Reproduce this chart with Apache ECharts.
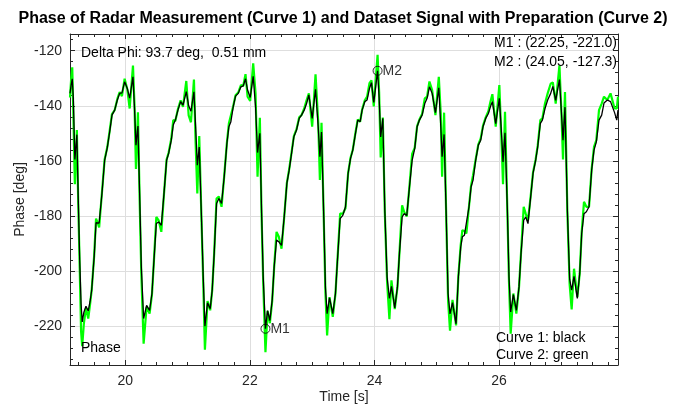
<!DOCTYPE html>
<html>
<head>
<meta charset="utf-8">
<script src="https://cdn.jsdelivr.net/npm/echarts@6/dist/echarts.min.js"></script>
<style>html,body{margin:0;padding:0;background:#fff}#c{width:686px;height:412px}</style>
</head>
<body>
<div id="c"></div>
<script>
// ---- data ----
const timeS = [
19.112,19.130,19.148,19.165,19.190,19.222,19.245,19.268,19.290,19.308,19.335,19.368,19.405,19.435,19.460,19.500,19.530,19.555,19.580,19.625,
19.668,19.711,19.749,19.786,19.829,19.872,19.909,19.946,19.989,20.032,20.070,20.123,20.148,20.171,20.203,20.230,20.257,20.294,20.342,20.390,
20.428,20.460,20.498,20.535,20.578,20.621,20.663,20.696,20.738,20.770,20.803,20.845,20.888,20.926,20.979,21.017,21.054,21.102,21.129,21.156,
21.187,21.224,21.251,21.278,21.320,21.363,21.395,21.427,21.465,21.502,21.545,21.588,21.631,21.663,21.695,21.732,21.770,21.813,21.856,21.893,
21.930,21.963,22.005,22.053,22.091,22.123,22.160,22.187,22.214,22.250,22.284,22.321,22.358,22.390,22.428,22.465,22.508,22.551,22.594,22.631,
22.669,22.706,22.749,22.792,22.829,22.872,22.910,22.947,23.000,23.054,23.097,23.124,23.150,23.187,23.213,23.240,23.278,23.331,23.374,23.406,
23.449,23.492,23.535,23.577,23.615,23.652,23.695,23.732,23.770,23.802,23.845,23.882,23.920,23.952,23.989,24.050,24.075,24.100,24.134,24.166,
24.203,24.240,24.273,24.326,24.369,24.401,24.444,24.476,24.519,24.562,24.605,24.647,24.685,24.722,24.765,24.808,24.845,24.883,24.926,24.979,
25.033,25.065,25.086,25.118,25.150,25.182,25.213,25.253,25.310,25.347,25.385,25.411,25.444,25.476,25.518,25.551,25.583,25.625,25.668,25.706,
25.743,25.786,25.829,25.861,25.893,25.947,26.005,26.043,26.064,26.096,26.134,26.160,26.187,26.230,26.278,26.321,26.353,26.396,26.428,26.465,
26.508,26.546,26.588,26.621,26.663,26.696,26.738,26.781,26.829,26.864,26.910,26.970,27.000,27.027,27.059,27.097,27.134,27.166,27.204,27.257,
27.295,27.327,27.364,27.402,27.445,27.487,27.525,27.562,27.605,27.648,27.685,27.739,27.790,27.817,27.855,27.890,27.910
];
// Curve 1 (black): radar measurement phase
const curve1 = [
-135.5,-132.5,-130.2,-137.0,-159.5,-150.5,-174.0,-196.0,-212.0,-218.5,-215.0,-212.8,-214.5,-211.0,-207.0,-194.9,-182.5,-182.0,-182.6,-171.9,
-159.8,-155.2,-149.5,-143.4,-141.6,-137.9,-135.5,-135.3,-131.3,-133.7,-137.2,-129.5,-141.0,-154.3,-147.4,-171.9,-198.5,-217.3,-212.5,-214.3,
-208.2,-196.1,-182.8,-182.2,-183.4,-171.9,-159.8,-157.3,-152.5,-147.0,-145.2,-141.6,-138.5,-139.8,-134.9,-140.0,-142.0,-134.9,-147.6,-161.6,
-155.0,-181.6,-202.2,-220.1,-211.6,-213.7,-207.0,-193.7,-175.5,-173.7,-175.5,-165.8,-153.7,-147.6,-145.8,-140.4,-136.5,-135.5,-133.1,-132.8,
-130.2,-134.3,-137.0,-129.3,-140.4,-157.0,-150.0,-177.9,-202.2,-221.0,-214.4,-218.0,-210.6,-198.5,-188.8,-189.4,-190.7,-180.4,-168.2,-163.4,
-157.3,-151.3,-148.8,-144.6,-143.4,-141.6,-139.2,-136.1,-144.6,-134.0,-147.6,-158.5,-149.5,-181.0,-206.0,-215.5,-209.8,-215.5,-208.2,-196.1,
-181.0,-179.8,-176.7,-164.6,-159.2,-156.1,-150.1,-145.2,-145.8,-141.6,-138.5,-137.9,-133.7,-131.6,-138.8,-127.3,-137.0,-151.3,-144.6,-177.9,
-202.2,-210.0,-205.6,-213.4,-205.8,-193.7,-180.4,-179.2,-179.8,-169.5,-159.8,-155.5,-147.6,-145.2,-143.4,-139.2,-137.3,-133.1,-135.5,-142.5,
-133.5,-147.6,-158.5,-150.4,-177.9,-208.2,-215.6,-211.5,-219.2,-202.2,-191.3,-187.6,-187.0,-186.4,-176.7,-169.5,-167.0,-159.8,-154.3,-152.5,
-147.6,-144.6,-142.8,-140.4,-138.5,-146.5,-137.3,-151.3,-160.4,-149.8,-177.9,-202.2,-214.9,-208.6,-214.3,-205.8,-193.7,-181.6,-180.4,-182.8,
-173.1,-164.6,-159.8,-154.9,-146.4,-145.2,-141.0,-137.9,-135.5,-133.0,-138.0,-130.5,-141.6,-152.5,-140.5,-177.9,-203.0,-207.0,-202.0,-210.0,
-201.0,-186.4,-179.2,-178.5,-176.7,-163.4,-156.1,-153.1,-145.2,-143.4,-139.0,-137.9,-138.5,-138.2,-142.5,-145.2,-141.6
];
// Curve 2 (green): dataset signal with preparation
const curve2 = [
-137.0,-130.5,-126.0,-142.0,-168.5,-148.8,-176.0,-199.0,-222.0,-227.3,-219.0,-213.5,-217.3,-212.0,-207.0,-194.5,-181.0,-182.5,-184.2,-171.5,
-159.5,-155.0,-149.0,-143.0,-141.6,-137.5,-135.0,-136.5,-130.2,-134.0,-141.0,-125.4,-140.0,-163.0,-142.4,-174.3,-201.0,-226.4,-213.0,-215.5,
-208.5,-196.0,-180.4,-181.6,-185.8,-172.0,-159.5,-157.0,-152.0,-145.2,-145.5,-141.2,-138.0,-140.4,-131.0,-143.5,-146.0,-130.5,-153.7,-171.9,
-151.0,-182.0,-204.0,-228.6,-210.9,-214.3,-207.0,-193.5,-173.7,-173.0,-176.7,-165.5,-153.5,-146.4,-145.8,-140.2,-136.2,-135.2,-132.5,-132.8,
-128.5,-136.7,-138.2,-124.6,-135.5,-165.8,-144.4,-179.0,-204.0,-229.5,-214.5,-219.0,-211.0,-198.5,-185.8,-187.6,-191.9,-180.4,-168.0,-163.0,
-157.0,-151.0,-148.5,-144.2,-143.4,-141.0,-138.0,-135.5,-147.6,-128.6,-146.0,-167.0,-146.2,-182.0,-208.0,-223.4,-209.5,-216.7,-208.2,-196.0,
-179.2,-179.2,-177.2,-164.5,-159.0,-156.0,-149.8,-145.0,-145.8,-141.4,-138.0,-136.7,-131.8,-130.8,-140.2,-121.5,-135.0,-158.8,-144.3,-178.5,
-204.0,-217.5,-203.4,-213.9,-206.0,-193.5,-176.2,-178.5,-180.2,-169.2,-157.5,-155.2,-147.4,-145.0,-143.0,-137.3,-136.7,-131.2,-134.3,-143.4,
-129.5,-143.0,-165.8,-142.5,-178.0,-210.7,-221.7,-210.5,-219.8,-202.0,-190.5,-185.2,-185.5,-186.4,-176.5,-169.0,-165.2,-159.5,-154.0,-151.9,
-147.2,-144.2,-142.0,-138.6,-135.8,-147.6,-132.5,-155.0,-168.5,-142.2,-178.5,-204.0,-222.8,-208.2,-215.5,-205.8,-193.5,-176.7,-179.2,-181.6,
-172.8,-164.2,-159.5,-154.5,-145.2,-144.6,-139.2,-135.5,-132.0,-131.5,-139.2,-125.3,-141.6,-159.5,-135.0,-178.5,-205.0,-214.0,-199.2,-209.5,
-201.0,-186.0,-174.9,-176.7,-176.7,-163.0,-154.9,-152.5,-141.6,-139.2,-136.7,-137.9,-135.5,-134.9,-141.0,-141.0,-136.7
];
// markers
const markerNames = ['M1', 'M2'];
const markerTimes = [22.25, 24.05];
const markerValues = [-221.0, -127.3];
// tick labels
const xMajor = [20, 22, 24, 26];
const yMajor = [-220, -200, -180, -160, -140, -120];
// texts
const titleText = 'Phase of Radar Measurement (Curve 1) and Dataset Signal with Preparation (Curve 2)';
const deltaText = 'Delta Phi: 93.7 deg,  0.51 mm';
const m1Text = 'M1 : (22.25, -221.0)';
const m2Text = 'M2 : (24.05, -127.3)';

// ---- axes helpers ----
const X_MIN = 19.112, X_MAX = 27.91, Y_MIN = -234.17, Y_MAX = -113.93;
const xMinor = []; for (let v = 19.25; v < 27.9; v += 0.25) { if (Math.abs(v / 2 - Math.round(v / 2)) > 1e-6) xMinor.push(+v.toFixed(2)); }
const yMinor = []; for (let v = -232; v <= -116; v += 4) { if (v % 20 !== 0) yMinor.push(v); }
const FONT = '"Liberation Sans", Arial, Helvetica, sans-serif';
const AX = '#262626';

function xAx(pos, ticks, len, main, label) {
  return {
    type: 'value', position: pos, min: X_MIN, max: X_MAX, splitNumber: 5,
    axisLine: { show: main, onZero: false, lineStyle: { color: AX, width: 1 } },
    axisTick: { show: true, inside: true, length: len, customValues: ticks, lineStyle: { color: AX, width: 1 } },
    axisLabel: { show: label, customValues: ticks, margin: 9, color: '#262626', fontSize: 14, fontFamily: FONT },
    splitLine: { show: main && label, lineStyle: { color: '#dedede', width: 1 } },
    name: label ? 'Time [s]' : '', nameLocation: 'middle', nameGap: 25, nameMoveOverlap: false,
    nameTextStyle: { color: '#262626', fontSize: 14, fontFamily: FONT }
  };
}
function yAx(pos, ticks, len, main, label) {
  return {
    type: 'value', position: pos, min: Y_MIN, max: Y_MAX, splitNumber: 5,
    axisLine: { show: main, onZero: false, lineStyle: { color: AX, width: 1 } },
    axisTick: { show: true, inside: true, length: len, customValues: ticks, lineStyle: { color: AX, width: 1 } },
    axisLabel: { show: label, customValues: ticks, margin: 8, color: '#262626', fontSize: 14, fontFamily: FONT },
    splitLine: { show: main && label, lineStyle: { color: '#dedede', width: 1 } },
    name: label ? 'Phase [deg]' : '', nameLocation: 'middle', nameGap: 43, nameMoveOverlap: false,
    nameTextStyle: { color: '#262626', fontSize: 14, fontFamily: FONT }
  };
}

const chart = echarts.init(document.getElementById('c'), null, { renderer: 'canvas' });
chart.setOption({
  animation: false,
  backgroundColor: '#ffffff',
  title: { text: titleText, left: 'center', top: 6, textStyle: { fontSize: 16, fontWeight: 'bold', color: '#000', fontFamily: FONT } },
  grid: { left: 70, right: 68, top: 34, bottom: 47, containLabel: false },
  xAxis: [xAx('bottom', xMajor, 5, true, true), xAx('bottom', xMinor, 3, false, false),
          xAx('top', xMajor, 5, true, false), xAx('top', xMinor, 3, false, false)],
  yAxis: [yAx('left', yMajor, 5, true, true), yAx('left', yMinor, 3, false, false),
          yAx('right', yMajor, 5, true, false), yAx('right', yMinor, 3, false, false)],
  series: [
    { type: 'line', name: 'Curve 2', xAxisIndex: 0, yAxisIndex: 0, showSymbol: false, symbol: 'none',
      data: timeS.map((t, i) => [t, curve2[i]]), lineStyle: { color: '#00ff00', width: 2.2 }, z: 2 },
    { type: 'line', name: 'Curve 1', xAxisIndex: 0, yAxisIndex: 0, showSymbol: false, symbol: 'none',
      data: timeS.map((t, i) => [t, curve1[i]]), lineStyle: { color: '#000000', width: 1.3 }, z: 3 },
    { type: 'scatter', xAxisIndex: 0, yAxisIndex: 0, symbol: 'circle', symbolSize: 9, z: 4,
      data: markerNames.map((n, i) => ({ name: n, value: [markerTimes[i], markerValues[i]] })),
      itemStyle: { color: 'rgba(0,0,0,0)', borderColor: '#000', borderWidth: 1 },
      label: { show: true, position: 'right', distance: 0, formatter: '{b}', color: '#000', fontSize: 14, fontFamily: FONT } }
  ],
  graphic: [
    { type: 'text', x: 81, y: 52.7, z: 10, style: { text: deltaText, fill: '#000', font: '14px ' + FONT, verticalAlign: 'middle', align: 'left' } },
    { type: 'text', x: 617, y: 42.7, z: 10, style: { text: m1Text, fill: '#000', font: '14px ' + FONT, verticalAlign: 'middle', align: 'right' } },
    { type: 'text', x: 617, y: 62.3, z: 10, style: { text: m2Text, fill: '#000', font: '14px ' + FONT, verticalAlign: 'middle', align: 'right' } },
    { type: 'text', x: 81, y: 348.3, z: 10, style: { text: 'Phase', fill: '#000', font: '14px ' + FONT, verticalAlign: 'middle', align: 'left' } },
    { type: 'text', x: 496, y: 337.7, z: 10, style: { text: 'Curve 1: black', fill: '#000', font: '14px ' + FONT, verticalAlign: 'middle', align: 'left' } },
    { type: 'text', x: 496, y: 355, z: 10, style: { text: 'Curve 2: green', fill: '#000', font: '14px ' + FONT, verticalAlign: 'middle', align: 'left' } }
  ]
});
</script>
</body>
</html>
